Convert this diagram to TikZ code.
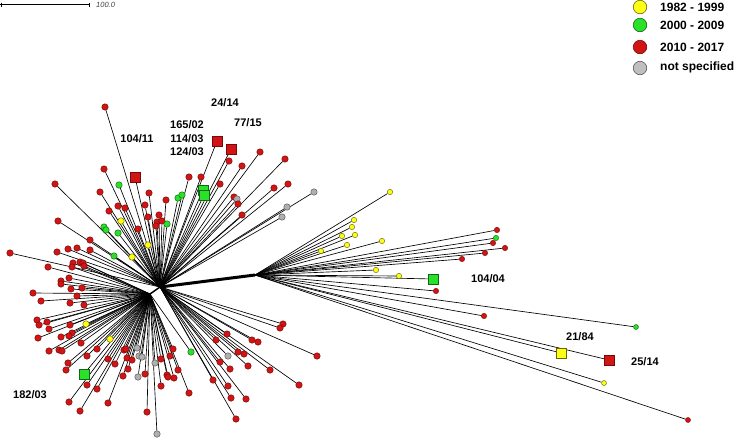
\documentclass[tikz,border=0pt]{standalone}
\usepackage{fontspec}
\setmainfont{Liberation Sans}
\pgfdeclarelayer{bg}
\pgfsetlayers{bg,main}
\definecolor{cred}{RGB}{210,20,20}
\definecolor{cgreen}{RGB}{40,225,40}
\definecolor{cyellow}{RGB}{255,255,20}
\definecolor{cgray}{RGB}{175,175,175}
\tikzset{
  dotbase/.style={circle, inner sep=0pt, minimum size=6.5pt, line width=0.45pt},
  lr/.style={dotbase, fill=cred, draw=cred!55!black},
  lg/.style={dotbase, fill=cgreen, draw=cgreen!45!black},
  ly/.style={dotbase, fill=cyellow, draw=cyellow!40!black},
  lk/.style={dotbase, fill=cgray, draw=cgray!50!black},
  sqbase/.style={rectangle, inner sep=0pt, minimum size=9.5pt, line width=0.5pt},
  sr/.style={sqbase, fill=cred, draw=cred!55!black},
  sg/.style={sqbase, fill=cgreen, draw=cgreen!45!black},
  sy/.style={sqbase, fill=cyellow, draw=cyellow!40!black},
  small/.style={minimum size=5.4pt},
  branch/.style={draw=black, line width=0.65pt},
  lab/.style={font=\fontsize{11}{13}\selectfont\bfseries, text=black, inner sep=0pt},
  legtxt/.style={font=\fontsize{12}{14}\selectfont\bfseries, text=black, anchor=west, inner sep=0pt},
  legdot/.style={circle, inner sep=0pt, minimum size=13.5pt, line width=0.6pt},
}
\begin{document}
\begin{tikzpicture}[x=1pt,y=-1pt]
\useasboundingbox (0,0) rectangle (740,440);
\coordinate (H) at (160,287);
\coordinate (H2) at (150,294);
\coordinate (R) at (255,275);
\begin{pgfonlayer}{bg}
\draw[line width=3pt] (H) -- (R);
\draw[line width=1.5pt] (H) -- (H2);
\end{pgfonlayer}
% upper group
\foreach \s/\x/\y [count=\i] in {
 lr/105/107, sr/135/177, lr/104/169, lr/55/184, lg/119/185, lr/100/192, lr/149/193,
 lr/166/200, lr/109/211, lr/118/206, lr/125/208, lr/145/205, lr/58/221, ly/121/221,
 lr/148/217, lr/159/215, lr/157/222, lr/162/221, lr/156/226, lg/167/224, lg/104/227,
 lg/106/230, lg/118/233, lr/138/229, ly/148/245, lr/90/240, lr/77/248, lr/68/249,
 lr/57/252, lr/90/250, lr/10/253, lg/114/256, ly/132/257, lg/178/198, lg/182/195,
 lr/189/177, lr/201/177, sg/203/190, sg/204/195, sr/217/141, sr/231/149, lr/260/152,
 lr/285/159, lr/242/166, lr/229/161, lr/220/184, lr/274/188, lr/288/184, lk/314/192,
 lr/234/197, lk/237/199, lr/238/204, lk/287/207, lk/282/217, lr/242/215,
 lr/283/324, lr/280/328, lr/227/334, lr/216/340, lr/252/340, lr/258/342, lr/317/356,
 lk/228/356, lr/238/352, lr/244/354, lr/220/362, lr/230/369, lr/248/366, lr/270/370,
 lr/299/385, lr/213/380, lr/228/386, lr/231/398, lr/246/399, lr/236/419}
{
  \node[\s] (u\i) at (\x,\y) {};
  \begin{pgfonlayer}{bg}\draw[branch] (H) -- (u\i);\end{pgfonlayer}
}
% left group
\foreach \s/\x/\y [count=\i] in {
 lr/48/267, lr/73/263, lr/80/262, lr/83/263, lr/84/266, lr/72/267, lr/69/278,
 lr/61/281, lr/61/284, lr/33/293, lr/71/289, lr/82/288, lr/77/296, lr/41/301,
 lr/70/303, lr/84/305, lr/37/320, lr/39/325, lr/47/322, lr/49/329, lr/70/325,
 ly/86/324, lr/72/333, lr/69/336, lr/38/338, lr/61/337, lr/81/343, ly/110/339,
 lr/49/351, lr/59/350, lr/62/351, lr/68/363, lr/66/370, lr/97/349, lr/87/356,
 sg/84/374, lr/87/385, lr/97/389, lr/69/402, lr/80/411, lr/108/403, lr/108/359,
 lr/115/364, lr/124/350, lr/126/349, lk/137/348, lk/139/356, lk/142/357,
 lr/127/358, lr/132/360, lr/128/369, lr/123/376, lk/138/377, lr/145/374,
 lr/147/412, lk/157/434, lk/155/363, lr/161/359, lr/173/349, lr/170/356,
 lr/167/375, lr/168/377, lr/174/378, lr/161/386, lr/178/370, lr/189/393, lg/191/352}
{
  \node[\s] (w\i) at (\x,\y) {};
  \begin{pgfonlayer}{bg}\draw[branch] (H2) -- (w\i);\end{pgfonlayer}
}
% right group (circles)
\foreach \s/\x/\y [count=\i] in {
 ly/321/251, ly/390/192, ly/354/220, ly/352/227, ly/342/236, ly/355/235,
 ly/347/245, ly/382/241, lr/497/230, lg/496/238, lr/493/243, lr/505/248,
 lr/485/253, lr/462/259, ly/376/270, ly/399/276, lr/436/291,
 lr/484/316}
{
  \node[\s,small] (v\i) at (\x,\y) {};
  \begin{pgfonlayer}{bg}\draw[branch] (R) -- (v\i);\end{pgfonlayer}
}
% right group (squares)
\node[sg] (q1) at (433,279) {};
\node[sy] (q2) at (561,353) {};
\node[sr] (q3) at (609,360) {};
\node[lg,minimum size=5pt] (f1) at (636,327) {};
\node[ly,minimum size=5pt] (f2) at (604,383) {};
\node[lr,minimum size=5pt] (f3) at (688,420) {};
\begin{pgfonlayer}{bg}
\foreach \n in {q1,q2,q3,f1,f2,f3} \draw[branch] (R) -- (\n);
\end{pgfonlayer}
% labels
\node[lab] (t1) at (225,103) {24/14};
\node[lab] (t2) at (248,123) {77/15};
\node[lab] (t3) at (187,125) {165/02};
\node[lab] (t4) at (187,139) {114/03};
\node[lab] (t5) at (187,152) {124/03};
\node[lab] (t6) at (137,139) {104/11};
\node[lab] (t7) at (488,279) {104/04};
\node[lab] (t8) at (580,337) {21/84};
\node[lab] (t9) at (645,362) {25/14};
\node[lab] (t10) at (30,395) {182/03};
% scale bar
\coordinate (sb1) at (0,4.5);
\coordinate (sb2) at (90,4.5);
\draw[line width=0.7pt] (sb1) -- (sb2);
\draw[line width=0.7pt] (1,2.5) -- (1,6.5);
\draw[line width=0.7pt] (89.5,2.5) -- (89.5,6.5);
\node[anchor=west, inner sep=0pt, font=\fontsize{7.5}{8}\selectfont\itshape, text=black!75] (sbt) at (96,4.5) {100.0};
% legend
\node[legdot, fill=cyellow, draw=cyellow!40!black] (k1) at (640,7) {};
\node[legdot, fill=cgreen, draw=cgreen!45!black] (k2) at (640,25) {};
\node[legdot, fill=cred, draw=cred!55!black] (k3) at (640,47) {};
\node[legdot, fill=cgray!80, draw=cgray!50!black] (k4) at (640,68) {};
\node[legtxt] (k1t) at (660,7) {1982 - 1999};
\node[legtxt] (k2t) at (660,25) {2000 - 2009};
\node[legtxt] (k3t) at (660,47) {2010 - 2017};
\node[legtxt] (k4t) at (660,67) {not specified};
\end{tikzpicture}
\end{document}
